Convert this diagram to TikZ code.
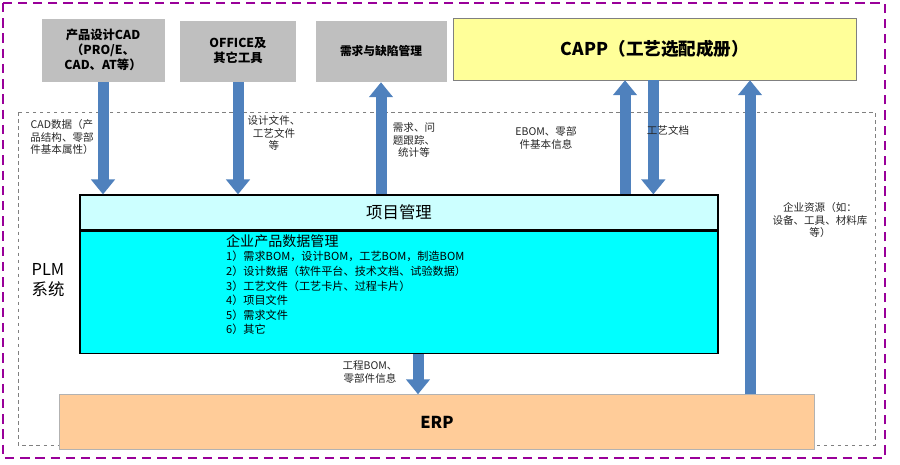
\documentclass[tikz,border=0pt]{standalone}
\usepackage{fontspec}
\setmainfont{Noto Sans CJK SC}
\usetikzlibrary{arrows.meta}
\definecolor{toolgray}{RGB}{191,191,191}
\definecolor{flowblue}{RGB}{79,129,189}
\definecolor{cappyellow}{RGB}{255,255,153}
\definecolor{plmcyan}{RGB}{0,255,255}
\definecolor{prjcyan}{RGB}{204,255,255}
\definecolor{erporange}{RGB}{255,204,153}
\tikzset{
  toolbox/.style={fill=toolgray, draw=white, font=\fontsize{10.5}{13}\selectfont\bfseries, align=center, inner sep=0pt},
  flow/.style={draw=flowblue, line width=0.33cm, -{Triangle[width=0.7cm,length=0.45cm]}},
  flowlabel/.style={font=\fontsize{9}{11}\selectfont, align=center, text=black!85}
}
\begin{document}
\begin{tikzpicture}[x=0.03cm, y=-0.03cm]
    \useasboundingbox (0,0) rectangle (900,464);
    % Frames
    \draw[violet!80!magenta, line width=1.2pt, dash pattern=on 8pt off 5pt] (3,3) rectangle (885,458);
    \draw[gray, line width=0.8pt, dashed] (18,112) rectangle (875,445);
    % Tools on top
    \node[toolbox, minimum width=3.72cm, minimum height=1.92cm] (cad) at (103,50) {产品设计CAD\\（PRO/E、\\CAD、AT等）};
    \node[toolbox, minimum width=3.51cm, minimum height=1.86cm] (office) at (238,51) {OFFICE及\\其它工具};
    \node[toolbox, minimum width=3.96cm, minimum height=1.86cm, font=\fontsize{10}{12}\selectfont\bfseries] (req) at (381,51) {需求与缺陷管理};
    \node[fill=cappyellow, draw=gray, minimum width=12.1cm, minimum height=1.86cm, font=\fontsize{15}{18}\selectfont\bfseries] (capp) at (655,49) {CAPP（工艺选配成册）};
    % PLM blocks
    \node[fill=prjcyan, draw=black, line width=1pt, minimum width=19.14cm, minimum height=1.05cm, font=\fontsize{14}{16}\selectfont] (prj) at (399,212.5) {项目管理};
    \node[fill=plmcyan, draw=black, line width=1.5pt, minimum width=19.14cm, minimum height=3.66cm, anchor=north] (pdm) at (prj.south) {};
    \node[anchor=north west, align=left, font=\fontsize{9.5}{12.5}\selectfont] (pdmtext) at (222,230) {{\fontsize{12}{14}\selectfont 企业产品数据管理}\\
      1）需求BOM，设计BOM，工艺BOM，制造BOM\\
      2）设计数据（软件平台、技术文档、试验数据）\\
      3）工艺文件（工艺卡片、过程卡片）\\
      4）项目文件\\
      5）需求文件\\
      6）其它};
    \node[font=\fontsize{14}{17}\selectfont, align=center] (plm) at (48,280) {PLM\\系统};
    \node[fill=erporange, draw=gray!60, minimum width=22.65cm, minimum height=1.65cm, font=\fontsize{14}{16}\selectfont\bfseries] (erp) at (437,422) {ERP};
    % Flows
    \draw[flow] (cad.south) -- (cad.south |- prj.north);
    \draw[flow] (office.south) -- (office.south |- prj.north);
    \draw[flow] (prj.north -| req.south) -- (req.south);
    \draw[flow] ([xshift=-0.9cm]prj.north -| capp.south) -- ([xshift=-0.9cm]capp.south);
    \draw[flow] ([xshift=-0.05cm]capp.south) -- ([xshift=-0.05cm]capp.south |- prj.north);
    \draw[flow] (erp.north -| 750,0) -- (capp.south -| 750,0);
    \draw[flow] (pdm.south -| 418,0) -- (erp.north -| 418,0);
    % Flow labels
    \node[flowlabel] (l1) at (62,137) {CAD数据（产\\品结构、零部\\件基本属性）};
    \node[flowlabel] (l2) at (274,133) {设计文件、\\工艺文件\\等};
    \node[flowlabel] (l3) at (414,140) {需求、问\\题跟踪、\\统计等};
    \node[flowlabel] (l4) at (546,138) {EBOM、零部\\件基本信息};
    \node[flowlabel] (l5) at (668,130) {工艺文档};
    \node[flowlabel] (l6) at (820,220) {企业资源（如：\\设备、工具、材料库\\等）};
    \node[flowlabel] (l7) at (370,372) {工程BOM、\\零部件信息};
\end{tikzpicture}
\end{document}
